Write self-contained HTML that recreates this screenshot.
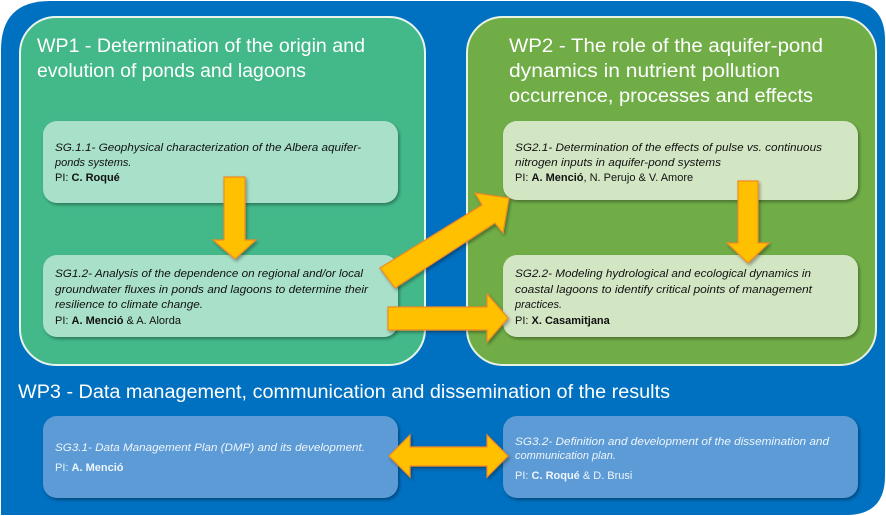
<!DOCTYPE html>
<html><head><style>body{margin:0;background:#fff}svg{display:block}</style></head><body>
<svg width="886" height="516" viewBox="0 0 886 516" xmlns="http://www.w3.org/2000/svg" font-family="Liberation Sans, sans-serif">
<defs>
<filter id="sh" x="-10%" y="-10%" width="120%" height="130%"><feDropShadow dx="1.5" dy="2" stdDeviation="1.5" flood-color="#000" flood-opacity="0.35"/></filter>
</defs>
<path d="M50,1 H846 Q885,1 885,40 V476 Q885,515 846,515 H1 V50 Q1,1 50,1 Z" fill="#0070c0"/>
<rect x="20" y="17" width="405" height="348" rx="36" fill="#43b98a" stroke="#e8f5ee" stroke-width="2"/>
<rect x="467" y="17" width="409" height="348" rx="36" fill="#70ad47" stroke="#e8f2e0" stroke-width="2"/>
<g fill="#fff" font-size="19">
<text x="37" y="52" textLength="328" lengthAdjust="spacingAndGlyphs">WP1 - Determination of the origin and</text>
<text x="37" y="77" textLength="269" lengthAdjust="spacingAndGlyphs">evolution of ponds and lagoons</text>
<text x="509" y="52" textLength="314" lengthAdjust="spacingAndGlyphs">WP2 - The role of the aquifer-pond</text>
<text x="509" y="77" textLength="271" lengthAdjust="spacingAndGlyphs">dynamics in nutrient pollution</text>
<text x="509" y="102" textLength="304" lengthAdjust="spacingAndGlyphs">occurrence, processes and effects</text>
<text x="18" y="398" textLength="652" lengthAdjust="spacingAndGlyphs">WP3 - Data management, communication and dissemination of the results</text>
</g>
<g filter="url(#sh)">
<rect x="43" y="121" width="355" height="82" rx="14" fill="#a8e0c9"/>
<rect x="43" y="255" width="355" height="82" rx="14" fill="#a8e0c9"/>
<rect x="503" y="121" width="355" height="79" rx="14" fill="#d3e6c4"/>
<rect x="503" y="255" width="355" height="82" rx="14" fill="#d3e6c4"/>
<rect x="43" y="416" width="355" height="82" rx="14" fill="#5b9bd5"/>
<rect x="503" y="416" width="355" height="82" rx="14" fill="#5b9bd5"/>
</g>
<g font-size="11" fill="#111">
<text x="55" y="151" font-style="italic" textLength="306" lengthAdjust="spacingAndGlyphs">SG.1.1- Geophysical characterization of the Albera aquifer-</text>
<text x="55" y="166" font-style="italic">ponds systems.</text>
<text x="55" y="181">PI: <tspan font-weight="bold">C. Roqué</tspan></text>
<text x="55" y="277" font-style="italic" textLength="308" lengthAdjust="spacingAndGlyphs">SG1.2- Analysis of the dependence on regional and/or local</text>
<text x="55" y="293" font-style="italic" textLength="313" lengthAdjust="spacingAndGlyphs">groundwater fluxes in ponds and lagoons to determine their</text>
<text x="55" y="308" font-style="italic" textLength="148" lengthAdjust="spacingAndGlyphs">resilience to climate change.</text>
<text x="55" y="324">PI: <tspan font-weight="bold">A. Menció</tspan> &amp; A. Alorda</text>
<text x="515" y="151" font-style="italic" textLength="307" lengthAdjust="spacingAndGlyphs">SG2.1- Determination of the effects of pulse vs. continuous</text>
<text x="515" y="166" font-style="italic" textLength="206" lengthAdjust="spacingAndGlyphs">nitrogen inputs in aquifer-pond systems</text>
<text x="515" y="181">PI: <tspan font-weight="bold">A. Menció</tspan>, N. Perujo &amp; V. Amore</text>
<text x="515" y="277" font-style="italic" textLength="296" lengthAdjust="spacingAndGlyphs">SG2.2- Modeling hydrological and ecological dynamics in</text>
<text x="515" y="293" font-style="italic" textLength="297" lengthAdjust="spacingAndGlyphs">coastal lagoons to identify critical points of management</text>
<text x="515" y="308" font-style="italic">practices.</text>
<text x="515" y="324">PI: <tspan font-weight="bold">X. Casamitjana</tspan></text>
</g>
<g font-size="11" fill="#eef5fc">
<text x="55" y="451" font-style="italic" textLength="310" lengthAdjust="spacingAndGlyphs">SG3.1- Data Management Plan (DMP) and its development.</text>
<text x="55" y="471">PI: <tspan font-weight="bold">A. Menció</tspan></text>
<text x="515" y="445" font-style="italic" textLength="314" lengthAdjust="spacingAndGlyphs">SG3.2- Definition and development of the dissemination and</text>
<text x="515" y="459" font-style="italic">communication plan.</text>
<text x="515" y="479">PI: <tspan font-weight="bold">C. Roqué</tspan> &amp; D. Brusi</text>
</g>
<g fill="#ffc000" stroke="#f08a24" stroke-width="1.2" filter="url(#sh)">
<polygon points="224,177 245,177 245,240 256,240 235,259 213,240 224,240"/>
<polygon points="738,181 758,181 758,243 769,243 748,263 727,243 738,243"/>
<polygon points="388,307 487,307 487,294 508,318 487,342 487,330 388,330"/>
<polygon points="380,268 482,205 475,193 509,198 503,233 495,223 395,288"/>
<polygon points="389,456 410,435 410,447 487,447 487,435 508,456 487,477 487,466 410,466 410,477"/>
</g>
</svg>
</body></html>
